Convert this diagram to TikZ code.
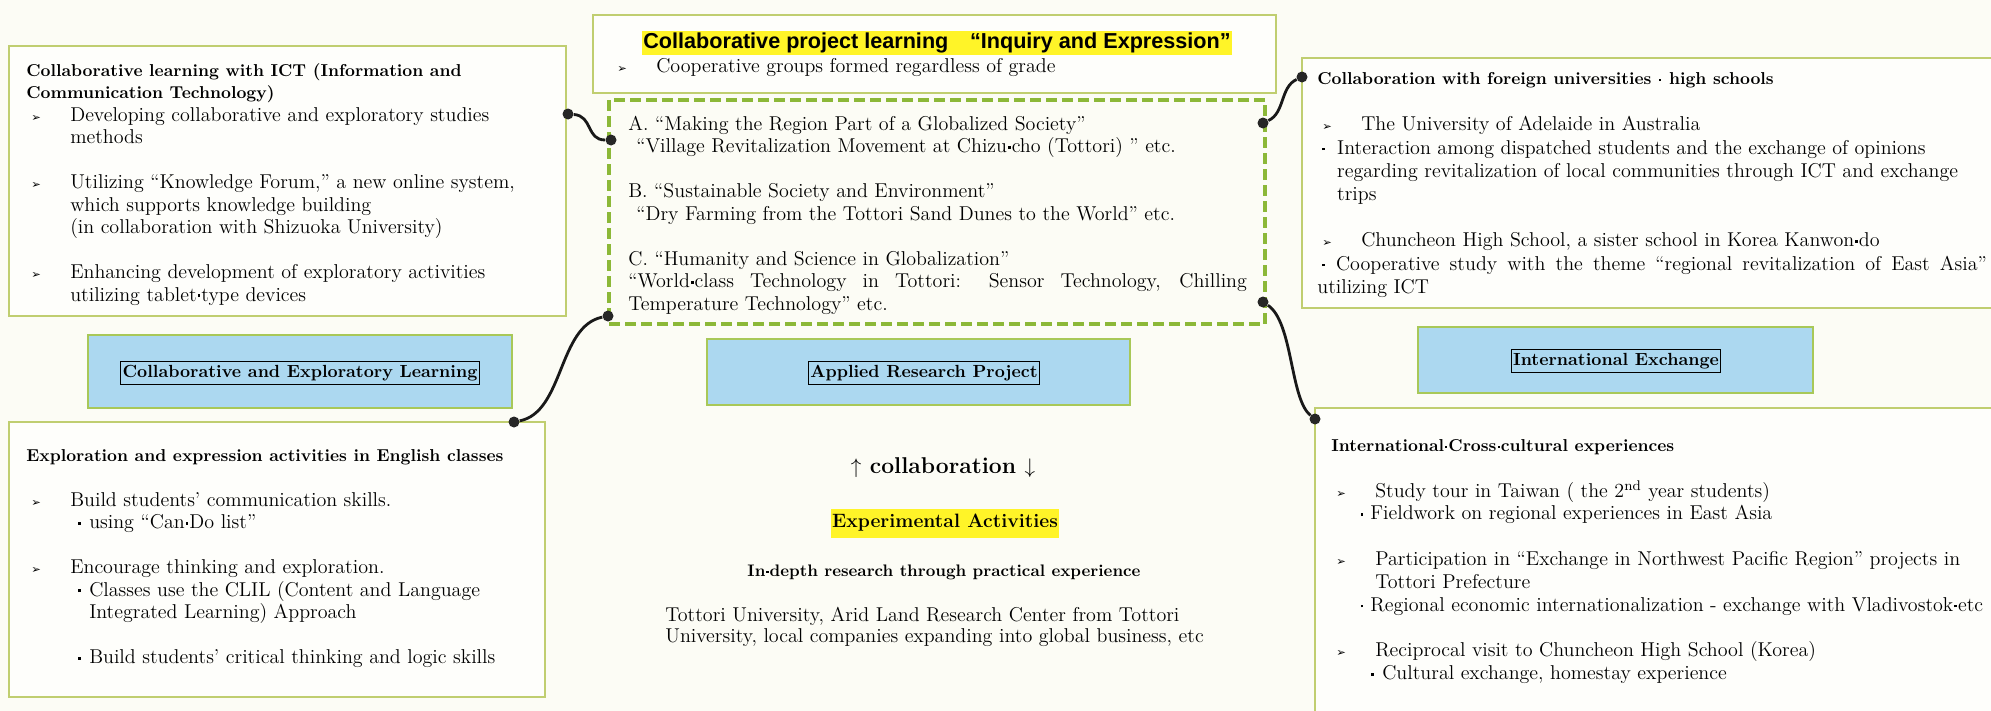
\documentclass[tikz,border=0pt]{standalone}
\usepackage{fontspec}
\usepackage{xcolor}
\newfontfamily\arialfont{Liberation Sans}
\newfontfamily\symbfont{DejaVu Sans}

\definecolor{pagebg}{RGB}{252,252,245}
\definecolor{boxfill}{RGB}{254,254,251}
\definecolor{boxline}{RGB}{192,206,112}
\definecolor{dashgreen}{RGB}{140,184,56}
\definecolor{skyfill}{RGB}{172,216,240}
\definecolor{skyline}{RGB}{168,200,88}
\definecolor{marker}{RGB}{255,244,40}

\newcommand{\arr}{\makebox[25pt][l]{\hspace{2.8pt}{\symbfont\fontsize{6.5}{7}\selectfont ➢}}}
\newcommand{\ind}{\hspace*{25pt}}
\newcommand{\md}{\kern0.6pt\raisebox{0.2em}{\rule{0.13em}{0.13em}}\kern0.6pt}
\newcommand{\subdot}[2]{\hspace*{#1}\makebox[#2][l]{\md}}
\newcommand{\hd}[1]{{\bfseries\fontsize{9.8}{12.8}\selectfont #1}}

\begin{document}
\begin{tikzpicture}[x=0.2mm,y=-0.2mm,
  box/.style={draw=boxline,line width=0.8pt,fill=boxfill},
  skybox/.style={draw=skyline,line width=1pt,fill=skyfill},
  labelframe/.style={draw=black,line width=0.6pt,inner xsep=1pt,inner ysep=1.8pt,
    text height=7.5pt,text depth=2.5pt,font=\bfseries\fontsize{10}{10}\selectfont},
  body/.style={anchor=north west,align=left,inner sep=0pt,font=\fontsize{11.4}{#1}\selectfont},
  body/.default=12.8pt,
  knob/.style={circle,fill=black!85,inner sep=0pt,minimum size=2.2mm},
  link/.style={black!90,line width=1.6pt}]

\useasboundingbox (0,0) rectangle (1991,711);
\fill[pagebg] (0,0) rectangle (1991,711);

% boxes
\draw[box] (9,46) rectangle (566,316);
\draw[box] (593,15) rectangle (1276,93);
\draw[box] (1302,58) rectangle (1998,308);
\draw[box] (9,422) rectangle (545,697);
\draw[box] (1315,408) rectangle (1998,716);
\draw[dashgreen,line width=2.2pt,dash pattern=on 2.2mm off 1mm] (609,100) rectangle (1265,324);

\draw[skybox] (88,335) rectangle (512,408);
\draw[skybox] (707,339) rectangle (1130,405);
\draw[skybox] (1418,327) rectangle (1813,393);

\node[labelframe] (coopLabel) at (300,373) {Collaborative and Exploratory Learning};
\node[labelframe] (projLabel) at (924,373) {Applied Research Project};
\node[labelframe] (intlLabel) at (1616,361) {International Exchange};

% top centre
\node[fill=marker,inner xsep=1pt,inner ysep=0.8pt,text height=9.2pt,text depth=2.6pt,
  font=\arialfont\bfseries\fontsize{12.3}{12.3}\selectfont] (title) at (937,43)
  {Collaborative project learning\quad “Inquiry and Expression”};
\node[anchor=base west,inner sep=0pt,font=\fontsize{11.4}{12.8}\selectfont] (groups) at (612,72)
  {\arr Cooperative groups formed regardless of grade};

\node[body] (themeText) at (628,114) {\strut A. “Making the Region Part of a Globalized Society”\\
\hspace*{4.5pt}“Village Revitalization Movement at Chizu\md cho (Tottori) ” etc.\\
\\
B. “Sustainable Society and Environment”\\
\hspace*{4.5pt}“Dry Farming from the Tottori Sand Dunes to the World” etc.\\
\\
C. “Humanity and Science in Globalization”\\
\makebox[352pt][s]{“World\md class Technology in Tottori: Sensor Technology, Chilling}\\
Temperature Technology” etc.};

% left
\node[body] (ictText) at (26,60) {\strut\hd{Collaborative learning with ICT (Information and}\\
\hd{Communication Technology)}\\
\arr Developing collaborative and exploratory studies\\
\ind methods\\
\\
\arr Utilizing “Knowledge Forum,” a new online system,\\
\ind which supports knowledge building\\
\ind (in collaboration with Shizuoka University)\\
\\
\arr Enhancing development of exploratory activities\\
\ind utilizing tablet\md type devices};

\node[body] (englishText) at (26,445) {\strut\hd{Exploration and expression activities in English classes}\\
\\
\arr Build students' communication skills.\\
\subdot{29pt}{6.8pt}using “Can\md Do list”\\
\\
\arr Encourage thinking and exploration.\\
\subdot{29pt}{6.8pt}Classes use the CLIL (Content and Language\\
\hspace*{35.8pt}Integrated Learning) Approach\\
\\
\subdot{29pt}{6.8pt}Build students' critical thinking and logic skills};

% right
\node[body=13.2pt] (foreignText) at (1317,68) {\strut\hd{Collaboration with foreign universities\ \md\ high schools}\\
\\
\arr The University of Adelaide in Australia\\
\subdot{2.2pt}{9.1pt}Interaction among dispatched students and the exchange of opinions\\
\hspace*{11.3pt}regarding revitalization of local communities through ICT and exchange\\
\hspace*{11.3pt}trips\\
\\
\arr Chuncheon High School, a sister school in Korea Kanwon\md do\\
\makebox[381pt][s]{\hspace{2.2pt}\md\ Cooperative study with the theme “regional revitalization of East Asia”}\\
utilizing ICT};

\node[body=13pt] (crossText) at (1331,435) {\strut\hd{International\md Cross\md cultural experiences}\\
\\
\arr Study tour in Taiwan ( the 2\textsuperscript{nd} year students)\\
\subdot{16pt}{6.2pt}Fieldwork on regional experiences in East Asia\\
\\
\arr Participation in “Exchange in Northwest Pacific Region” projects in\\
\ind Tottori Prefecture\\
\subdot{16pt}{6.2pt}Regional economic internationalization - exchange with Vladivostok\md etc\\
\\
\arr Reciprocal visit to Chuncheon High School (Korea)\\
\subdot{22pt}{7pt}Cultural exchange, homestay experience};

% bottom centre
\node[font=\bfseries\fontsize{13}{13}\selectfont] (collab) at (943,468) {$\uparrow$ collaboration $\downarrow$};
\node[fill=marker,inner xsep=0.5pt,inner ysep=3pt,text height=8pt,text depth=2.5pt,
  font=\bfseries\fontsize{11}{11}\selectfont] (expAct) at (945,523) {Experimental Activities};
\node[font=\bfseries\fontsize{9.5}{10}\selectfont] (depth) at (944,572) {In\md depth research through practical experience};
\node[body=11.95pt] (partners) at (665,606) {\strut Tottori University, Arid Land Research Center from Tottori\\
University, local companies expanding into global business, etc};

% connectors
\node[knob] (ictR) at (568,114) {};
\node[knob] (themeL) at (611,140) {};
\node[knob] (themeBL) at (608,316) {};
\node[knob] (englishT) at (514,422) {};
\node[knob] (themeR1) at (1263,123) {};
\node[knob] (foreignL) at (1302,77) {};
\node[knob] (themeR2) at (1263,302) {};
\node[knob] (crossL) at (1315,419) {};

\draw[link] (ictR) .. controls +(25,2) and +(-25,0) .. (themeL);
\draw[link] (themeBL) .. controls +(-50,10) and +(50,-10) .. (englishT);
\draw[link] (themeR1) .. controls +(22,-10) and +(-22,10) .. (foreignL);
\draw[link] (themeR2) .. controls +(30,20) and +(-25,-20) .. (crossL);
\end{tikzpicture}
\end{document}
